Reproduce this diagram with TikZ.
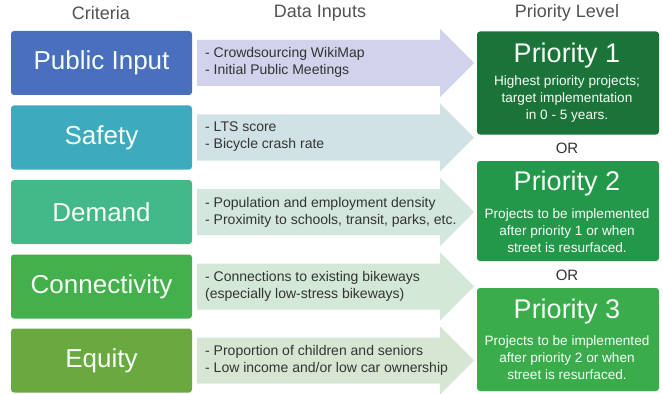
\documentclass[tikz,border=0pt]{standalone}
\usepackage{fontspec}
\setmainfont{Liberation Sans}
\begin{document}
\begin{tikzpicture}[x=1pt,y=-1pt,
  header/.style={text=black!68, font=\fontsize{18}{20}\selectfont},
  critbox/.style={rounded corners=3pt, minimum width=181pt, minimum height=64pt,
    inner sep=0pt, text=white!96!green, font=\fontsize{26}{30}\selectfont},
  datatext/.style={anchor=west, align=left, inner sep=0pt, text=black!80,
    font=\fontsize{14}{17}\selectfont},
  prio/.style={rounded corners=3pt, minimum width=182pt, inner sep=0pt},
  priotitle/.style={text=white!96!green, inner sep=0pt, font=\fontsize{27}{30}\selectfont},
  priodesc/.style={text=white!96!green, align=center, inner sep=0pt,
    font=\fontsize{13.6}{17}\selectfont},
  ortext/.style={text=black!80, font=\fontsize{15}{17}\selectfont}]
\definecolor{cPublic}{HTML}{4B6FBF}
\definecolor{cSafety}{HTML}{3EAABE}
\definecolor{cDemand}{HTML}{43B888}
\definecolor{cConnect}{HTML}{44B04B}
\definecolor{cEquity}{HTML}{69A93F}
\definecolor{aPublic}{HTML}{D0D3EB}
\definecolor{aSafety}{HTML}{D0E2E6}
\definecolor{aDemand}{HTML}{D3E7DE}
\definecolor{aConnect}{HTML}{D3E8D6}
\definecolor{aEquity}{HTML}{D6E6D2}
\definecolor{pOne}{HTML}{1B733A}
\definecolor{pTwo}{HTML}{23974A}
\definecolor{pThree}{HTML}{3AAC4C}
\useasboundingbox[fill=white] (0,0) rectangle (663,393);

% column headings
\node[header] (hcrit) at (101,13) {Criteria};
\node[header] (hdata) at (320,13) {Data Inputs};
\node[header] (hprio) at (567,13) {Priority Level};

% data-input arrows, one per criterion row
\foreach \cy/\col in {63/aPublic, 137.5/aSafety, 212/aDemand, 286.5/aConnect, 360.5/aEquity}{
  \fill[\col] (197,\cy-23) -- (440,\cy-23) -- (440,\cy-34) -- (474,\cy)
    -- (440,\cy+34) -- (440,\cy+23) -- (197,\cy+23) -- cycle;
}

% criteria boxes
\node[critbox, fill=cPublic]  (public)  at (101.5,63)    {Public Input};
\node[critbox, fill=cSafety]  (safety)  at (101.5,137.5) {Safety};
\node[critbox, fill=cDemand]  (demand)  at (101.5,212)   {Demand};
\node[critbox, fill=cConnect] (connect) at (101.5,286.5) {Connectivity};
\node[critbox, fill=cEquity]  (equity)  at (101.5,360.5) {Equity};

% data inputs
\node[datatext] (dpublic) at (205,62.5) {- Crowdsourcing WikiMap\\- Initial Public Meetings};
\node[datatext] (dsafety) at (205,137) {- LTS score\\- Bicycle crash rate};
\node[datatext] (ddemand) at (205,212) {- Population and employment density\\- Proximity to schools, transit, parks, etc.};
\node[datatext] (dconnect) at (205,286) {- Connections to existing bikeways\\(especially low-stress bikeways)};
\node[datatext] (dequity) at (205,360.5) {- Proportion of children and seniors\\- Low income and/or low car ownership};

% priority levels
\node[prio, fill=pOne,   minimum height=103pt] (p1) at (568,83)  {};
\node[prio, fill=pTwo,   minimum height=100pt] (p2) at (568,211) {};
\node[prio, fill=pThree, minimum height=103pt] (p3) at (568,339.5) {};

\node[priotitle] (p1t) at (567,56)  {Priority 1};
\node[priodesc]  (p1d) at (567,98.5) {Highest priority projects;\\target implementation\\in 0 - 5 years.};
\node[priotitle] (p2t) at (567,184) {Priority 2};
\node[priodesc]  (p2d) at (567,231) {Projects to be implemented\\after priority 1 or when\\street is resurfaced.};
\node[priotitle] (p3t) at (567,312) {Priority 3};
\node[priodesc]  (p3d) at (567,357.5) {Projects to be implemented\\after priority 2 or when\\street is resurfaced.};

\node[ortext] (or1) at (567,148.5) {OR};
\node[ortext] (or2) at (567,275.5) {OR};
\end{tikzpicture}
\end{document}
